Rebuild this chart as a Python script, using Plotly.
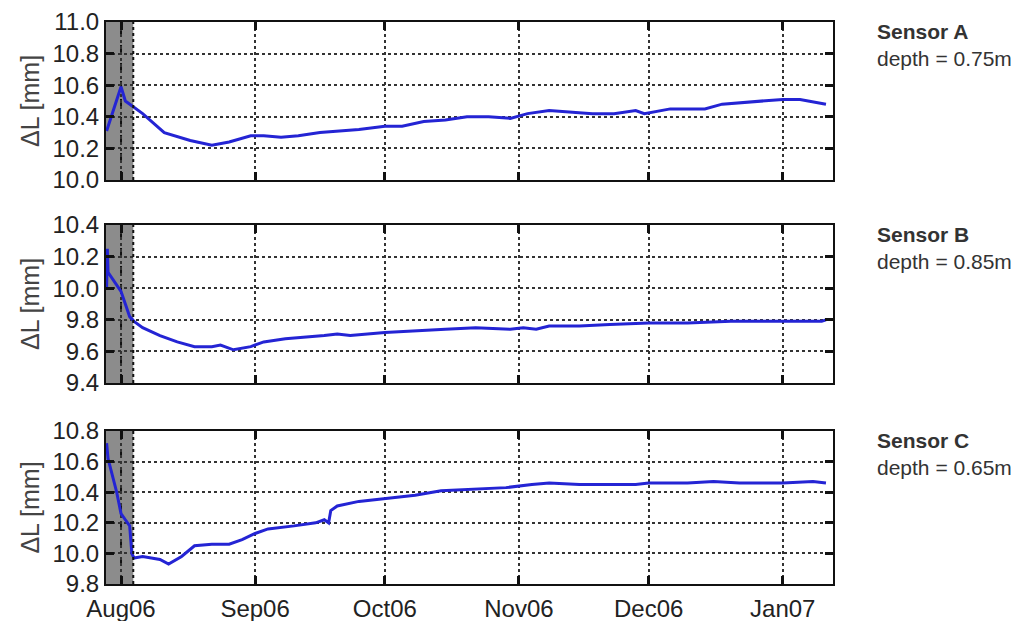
import plotly.graph_objects as go

# ---------------- data ----------------
dates_a = ["2006-07-28 16:00", "2006-08-01", "2006-08-02", "2006-08-06", "2006-08-11", "2006-08-17",
           "2006-08-22", "2006-08-26", "2006-08-31", "2006-09-03", "2006-09-07", "2006-09-11",
           "2006-09-16", "2006-09-20", "2006-09-25", "2006-10-01", "2006-10-05", "2006-10-10",
           "2006-10-15", "2006-10-20", "2006-10-25", "2006-10-30", "2006-11-03", "2006-11-08",
           "2006-11-13", "2006-11-18", "2006-11-23", "2006-11-28", "2006-11-30", "2006-12-02",
           "2006-12-06", "2006-12-10", "2006-12-14", "2006-12-18", "2006-12-23", "2006-12-28",
           "2007-01-01", "2007-01-05", "2007-01-11"]
vals_a = [10.31, 10.59, 10.50, 10.42, 10.30, 10.25,
          10.22, 10.24, 10.28, 10.28, 10.27, 10.28,
          10.30, 10.31, 10.32, 10.34, 10.34, 10.37,
          10.38, 10.40, 10.40, 10.39, 10.42, 10.44,
          10.43, 10.42, 10.42, 10.44, 10.42, 10.43,
          10.45, 10.45, 10.45, 10.48, 10.49, 10.50,
          10.51, 10.51, 10.48]

dates_b = ["2006-07-28 16:00", "2006-07-28 20:00", "2006-07-29", "2006-07-30", "2006-07-31",
           "2006-08-01", "2006-08-02", "2006-08-03", "2006-08-04", "2006-08-06", "2006-08-10",
           "2006-08-14", "2006-08-18", "2006-08-22", "2006-08-24", "2006-08-27", "2006-08-31",
           "2006-09-03", "2006-09-08", "2006-09-13", "2006-09-17", "2006-09-20", "2006-09-23",
           "2006-10-01", "2006-10-10", "2006-10-15", "2006-10-22", "2006-10-30", "2006-11-02",
           "2006-11-05", "2006-11-08", "2006-11-15", "2006-11-22", "2006-12-01", "2006-12-10",
           "2006-12-20", "2007-01-01", "2007-01-10", "2007-01-11"]
vals_b = [10.00, 10.25, 10.10, 10.06, 10.02,
          9.98, 9.90, 9.82, 9.79, 9.75, 9.70,
          9.66, 9.63, 9.63, 9.64, 9.61, 9.63,
          9.66, 9.68, 9.69, 9.70, 9.71, 9.70,
          9.72, 9.73, 9.74, 9.75, 9.74, 9.75,
          9.74, 9.76, 9.76, 9.77, 9.78, 9.78,
          9.79, 9.79, 9.79, 9.80]

dates_c = ["2006-07-28 16:00", "2006-07-29", "2006-07-31", "2006-08-01", "2006-08-02",
           "2006-08-03", "2006-08-03 12:00", "2006-08-04", "2006-08-06", "2006-08-10",
           "2006-08-12", "2006-08-15", "2006-08-18", "2006-08-22", "2006-08-26", "2006-08-29",
           "2006-09-01", "2006-09-04", "2006-09-10", "2006-09-15", "2006-09-17", "2006-09-18",
           "2006-09-18 12:00", "2006-09-20", "2006-09-25", "2006-10-01", "2006-10-08",
           "2006-10-14", "2006-10-22", "2006-10-29", "2006-11-04", "2006-11-08", "2006-11-15",
           "2006-11-22", "2006-11-28", "2006-12-01", "2006-12-10", "2006-12-16", "2006-12-22",
           "2006-12-28", "2007-01-01", "2007-01-08", "2007-01-11"]
vals_c = [10.72, 10.62, 10.40, 10.26, 10.22,
          10.18, 10.00, 9.97, 9.98, 9.96,
          9.93, 9.98, 10.05, 10.06, 10.06, 10.09,
          10.13, 10.16, 10.18, 10.20, 10.22, 10.20,
          10.28, 10.31, 10.34, 10.36, 10.38,
          10.41, 10.42, 10.43, 10.45, 10.46, 10.45,
          10.45, 10.45, 10.46, 10.46, 10.47, 10.46,
          10.46, 10.46, 10.47, 10.46]

sensor_names = ["Sensor A", "Sensor B", "Sensor C"]
depth_labels = ["depth = 0.75m", "depth = 0.85m", "depth = 0.65m"]
y_ranges = [[10.0, 11.0], [9.4, 10.4], [9.8, 10.8]]
x_range = ["2006-07-28 12:40", "2007-01-12 15:00"]
shade_end = "2006-08-03 20:00"

# ---------------- figure ----------------
FONT = "Liberation Sans, Arial, sans-serif"
domains = [[0.7189, 1.0], [0.3577, 0.6388], [0.0, 0.2722]]
series = [(dates_a, vals_a), (dates_b, vals_b), (dates_c, vals_c)]
PX = 1.0 / 562.0  # paper units per pixel in the plotting area height

fig = go.Figure()
layout = dict(
    width=1035, height=621,
    margin=dict(l=106, r=202, t=22, b=37),
    paper_bgcolor="white", plot_bgcolor="white",
    showlegend=False,
    font=dict(family=FONT, size=24, color="#222"),
)
shapes = []
annotations = []
for i, ((d, v), dom, yr) in enumerate(zip(series, domains, y_ranges)):
    n = "" if i == 0 else str(i + 1)
    xa, ya = "x" + n, "y" + n
    fig.add_trace(go.Scatter(x=d, y=v, mode="lines", xaxis=xa, yaxis=ya,
                             line=dict(color="#2424d4", width=3)))
    layout["xaxis" + n] = dict(
        type="date", range=x_range, anchor=ya, domain=[0, 1], automargin=False,
        dtick="M1", tick0="2006-08-01", tickformat="%b%y",
        showticklabels=(i == 2), ticks="inside", ticklen=8, tickwidth=2.5, tickcolor="#111",
        showline=True, linecolor="#111", linewidth=2, mirror="ticks",
        showgrid=True, gridcolor="#333", griddash="dot", gridwidth=1.6,
        tickfont=dict(size=24, color="#222"), ticklabelstandoff=2,
        matches="x" if i > 0 else None,
    )
    layout["yaxis" + n] = dict(
        range=yr, domain=dom, anchor=xa, dtick=0.2, tickformat=".1f", automargin=False,
        ticks="inside", ticklen=8, tickwidth=2.5, tickcolor="#111",
        showline=True, linecolor="#111", linewidth=2, mirror="ticks",
        showgrid=True, gridcolor="#333", griddash="dot", gridwidth=1.6,
        tickfont=dict(size=24, color="#222"),
        title=dict(text="ΔL [mm]", font=dict(size=25, color="#444"), standoff=6),
        zeroline=False,
    )
    shapes.append(dict(type="rect", xref=xa, yref=ya + " domain", x0=x_range[0], x1=shade_end,
                       y0=0, y1=1, fillcolor="#8c8c8c", line=dict(width=0), layer="below"))
    shapes.append(dict(type="line", xref=xa, yref=ya + " domain", x0=shade_end, x1=shade_end,
                       y0=0, y1=1, line=dict(color="#111", width=2, dash="dot"), layer="above"))
    shapes.append(dict(type="line", xref=xa, yref=ya + " domain", x0="2006-08-01", x1="2006-08-01",
                       y0=0, y1=1, line=dict(color="#111", width=2, dash="dash"), layer="below"))
    annotations.append(dict(xref="paper", yref="paper", x=1.059, y=dom[1] + 3 * PX,
                            xanchor="left", yanchor="top", showarrow=False, borderpad=0,
                            text="<b>" + sensor_names[i] + "</b>",
                            font=dict(size=21, color="#333", family=FONT)))
    annotations.append(dict(xref="paper", yref="paper", x=1.059, y=dom[1] - 24 * PX,
                            xanchor="left", yanchor="top", showarrow=False, borderpad=0,
                            text=depth_labels[i],
                            font=dict(size=21, color="#333", family=FONT)))

layout["shapes"] = shapes
layout["annotations"] = annotations
fig.update_layout(**layout)
fig.write_html("out.html")
